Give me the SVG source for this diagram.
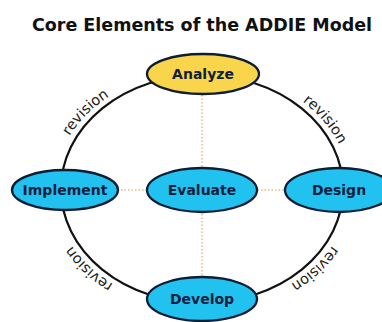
<svg xmlns="http://www.w3.org/2000/svg" width="382" height="322" viewBox="0 0 382 322">
<style>
.title{font-family:"DejaVu Sans","Liberation Sans",sans-serif;font-weight:bold;font-size:17.5px;fill:#111;text-anchor:middle}
.node ellipse{stroke:#0f1d33;stroke-width:2.3}
.blue{fill:#22c2f0}
.yellow{fill:#f9d54c}
.lbl{font-family:"DejaVu Sans","Liberation Sans",sans-serif;font-weight:bold;font-size:14px;fill:#102040;text-anchor:middle}
.rev{font-family:"DejaVu Sans","Liberation Sans",sans-serif;font-size:14.5px;fill:#222;text-anchor:middle}
.dot{stroke:#e0924a;stroke-width:1;stroke-dasharray:1.5 2;fill:none}
</style>
<defs>
<path id="pUL" d="M57.8,162.2 A148,119 0 0 1 134.8,83"/>
<path id="pUR" d="M276.9,86.1 A148,119 0 0 1 348.2,172.8"/>
<path id="pLR" d="M345,219.8 A148,119 0 0 1 264.5,296.9"/>
<path id="pLL" d="M139.5,296.9 A148,119 0 0 1 59,219.8"/>
</defs>
<rect width="382" height="322" fill="#fff"/>
<text class="title" x="202" y="31">Core Elements of the ADDIE Model</text>
<g id="connectors">
<ellipse cx="202" cy="189" rx="141" ry="114" fill="none" stroke="#111" stroke-width="2.2"/>
<line class="dot" x1="202" y1="74" x2="202" y2="299"/>
<line class="dot" x1="65" y1="190" x2="339" y2="190"/>
<text class="rev"><textPath href="#pUL" startOffset="50%">revision</textPath></text>
<text class="rev"><textPath href="#pUR" startOffset="50%">revision</textPath></text>
<text class="rev"><textPath href="#pLR" startOffset="50%">revision</textPath></text>
<text class="rev"><textPath href="#pLL" startOffset="50%">revision</textPath></text>
</g>
<g id="analyze" class="node"><ellipse class="yellow" cx="203" cy="74" rx="56" ry="20"/><text class="lbl" x="203" y="79">Analyze</text></g>
<g id="implement" class="node"><ellipse class="blue" cx="65" cy="190" rx="53" ry="20"/><text class="lbl" x="65" y="195">Implement</text></g>
<g id="evaluate" class="node"><ellipse class="blue" cx="202" cy="190" rx="55" ry="22"/><text class="lbl" x="202" y="195">Evaluate</text></g>
<g id="design" class="node"><ellipse class="blue" cx="339" cy="190" rx="54" ry="22"/><text class="lbl" x="339" y="195">Design</text></g>
<g id="develop" class="node"><ellipse class="blue" cx="202" cy="299" rx="55" ry="22"/><text class="lbl" x="202" y="304">Develop</text></g>
</svg>
